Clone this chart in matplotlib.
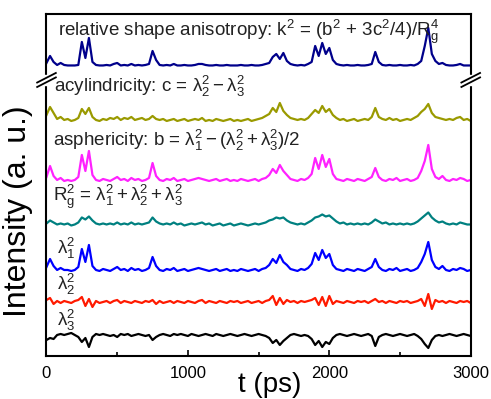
import numpy as np
import matplotlib
matplotlib.use("Agg")
import matplotlib.pyplot as plt

plt.rcParams['font.family'] = ['Liberation Sans', 'DejaVu Sans']
plt.rcParams['mathtext.fontset'] = 'custom'
plt.rcParams['mathtext.rm'] = 'Liberation Sans'
plt.rcParams['mathtext.it'] = 'Liberation Sans:italic'
plt.rcParams['mathtext.default'] = 'regular'

# time axis, one sample every 25 ps
t = np.arange(0, 3001, 25)

# shape descriptors (arbitrary units, above each trace's own baseline)
k2 = [3, 10, 4, 1, 3, 1, 0.5, 0.5, 0.5, 1,
      24, 8, 28, 4, 1, 0.5, 0.5, 1, 0.5, 2,
      3, 0.5, 1, 0.5, 2, 0.5, 1, 0.5, 1, 2,
      15, 6, 1, 0.5, 1, 0.5, 2, 0.5, 0.5, 1,
      0.5, 0.5, 1, 2, 2, 1, 0.5, 0.5, 1, 0.5,
      0.5, 1, 0.5, 0.5, 0.5, 1, 0.5, 0.5, 1, 0.5,
      0.5, 1, 2, 3, 9, 12, 7, 13, 5, 2,
      1, 0.5, 1, 0.5, 2, 4, 20, 10, 23, 12,
      18, 6, 2, 1, 0.5, 1, 0.5, 0.5, 1, 0.5,
      0.5, 1, 2, 14, 4, 1, 0.5, 1, 0.5, 0.5,
      1, 0.5, 0.5, 1, 0.5, 2, 5, 20, 38, 12,
      5, 2, 3, 1, 0.5, 0.5, 1, 2, 0.5, 0.5,
      0.5]
acyl = [8, 16, 10, 4, 6, 3, 4, 2, 3, 5,
        14, 9, 15, 6, 3, 2, 4, 3, 5, 4,
        6, 3, 5, 4, 6, 3, 4, 5, 3, 4,
        7, 4, 3, 4, 2, 3, 4, 2, 3, 4,
        2, 3, 4, 3, 5, 2, 3, 2, 4, 3,
        2, 3, 4, 2, 3, 2, 3, 4, 2, 3,
        4, 5, 7, 9, 15, 11, 20, 12, 8, 5,
        4, 3, 4, 3, 5, 9, 13, 10, 17, 11,
        14, 8, 5, 3, 4, 2, 3, 4, 2, 3,
        4, 3, 6, 15, 6, 4, 3, 5, 3, 4,
        2, 3, 4, 3, 5, 7, 11, 14, 19, 10,
        6, 5, 4, 3, 4, 3, 5, 6, 3, 4,
        2]
asph = [6, 17, 7, 3, 5, 2, 3, 2, 3, 6,
        28, 12, 32, 8, 3, 2, 4, 3, 2, 4,
        6, 3, 4, 2, 5, 3, 4, 2, 3, 5,
        20, 7, 3, 2, 4, 3, 5, 2, 3, 4,
        2, 3, 4, 5, 4, 3, 2, 3, 4, 2,
        3, 4, 2, 3, 2, 4, 3, 2, 3, 4,
        2, 4, 5, 8, 14, 10, 18, 12, 8, 4,
        3, 2, 4, 3, 5, 9, 25, 14, 28, 16,
        24, 9, 4, 3, 2, 4, 3, 2, 4, 3,
        2, 4, 6, 15, 6, 3, 2, 4, 3, 5,
        2, 3, 4, 2, 3, 5, 12, 22, 38, 14,
        6, 4, 7, 3, 2, 4, 3, 5, 4, 2,
        3]
rg2 = [3, 6, 4, 2, 3, 2, 3, 1, 2, 4,
       9, 7, 10, 6, 3, 2, 3, 2, 3, 2,
       4, 2, 3, 2, 4, 2, 3, 2, 3, 4,
       9, 5, 3, 2, 3, 2, 4, 2, 3, 1,
       2, 3, 2, 3, 4, 2, 3, 1, 2, 3,
       1, 2, 3, 1, 2, 3, 2, 1, 2, 3,
       2, 3, 4, 6, 7, 9, 8, 9, 6, 4,
       3, 2, 3, 2, 4, 6, 9, 10, 12, 10,
       11, 8, 5, 3, 4, 2, 3, 2, 3, 2,
       3, 2, 4, 7, 5, 3, 4, 2, 3, 2,
       3, 2, 3, 2, 3, 5, 8, 11, 14, 9,
       6, 4, 5, 3, 2, 3, 2, 4, 3, 2,
       2]
lam1 = [5, 13, 6, 2, 4, 2, 2, 1, 2, 5,
        23, 10, 27, 6, 2, 1, 3, 2, 1, 3,
        5, 2, 3, 1, 4, 2, 3, 1, 2, 4,
        15, 6, 2, 1, 3, 2, 4, 1, 2, 3,
        1, 2, 3, 4, 3, 2, 1, 2, 3, 1,
        2, 3, 1, 2, 1, 3, 2, 1, 2, 3,
        1, 3, 4, 7, 13, 9, 17, 10, 7, 3,
        2, 1, 3, 2, 4, 8, 19, 12, 22, 14,
        18, 7, 3, 2, 1, 3, 2, 1, 3, 2,
        1, 3, 5, 13, 5, 2, 1, 3, 2, 4,
        1, 2, 3, 1, 2, 4, 10, 18, 30, 12,
        5, 3, 6, 2, 1, 3, 2, 4, 3, 1,
        2]
lam2 = [2, 4, -2, 1, -1, 1, 0, -1, 1, 2,
        5, -4, 3, -5, 1, -1, 0, 1, -1, 1,
        2, -1, 1, 0, -1, 1, 0, -1, 1, 0,
        2, -2, 1, -1, 0, 1, -1, 1, 0, -1,
        1, 0, -1, 1, 2, -1, 1, 0, -1, 1,
        0, -1, 1, 0, 1, -1, 0, 1, -1, 0,
        1, -1, 1, 2, 6, -3, 4, -2, 2, 0,
        1, -1, 1, 0, 1, 2, 4, -3, 5, -4,
        6, -2, 1, 0, -1, 1, 0, -1, 1, 0,
        1, -1, 1, 3, 0, 1, -1, 1, 0, -1,
        1, 0, 1, -1, 0, 1, 3, -4, 8, -7,
        2, 0, 1, -1, 1, 0, -1, 1, 0, 1,
        -1]
lam3 = [-5, -3, -4, 0, 1, 0, 1, 2, 0, -2,
        -7, -3, -12, -2, 1, 0, 1, 0, -1, 0,
        -2, 1, 0, 1, -1, 0, 1, 0, -1, 0,
        -5, -2, 0, 1, 0, -1, 1, 0, 1, 0,
        -1, 1, 0, -1, 0, 1, 0, -1, 1, 0,
        -1, 0, 1, 0, -1, 0, 1, 0, -1, 0,
        1, 0, -1, -3, -8, -5, -10, -6, -3, 0,
        1, 0, -1, 0, -1, -4, -10, -6, -12, -7,
        -9, -3, 0, 1, 0, -1, 0, 1, 0, -1,
        0, 1, -1, -11, -2, 0, 1, 0, -1, 0,
        1, 0, -1, 0, 1, -1, -4, -9, -13, -5,
        -1, 0, -1, 0, 1, 0, -1, 0, 1, 0,
        -1]

series = [k2, acyl, asph, rg2, lam1, lam2, lam3]
colors = ['#00008b', '#9a9a00', '#ff22ff', '#008080', '#0000ff', '#ff1a00', '#000000']
offsets = [290, 233, 173, 129.5, 84, 54, 21]

labels = [
    r"relative shape anisotropy: k$^2$ = (b$^2$ + 3c$^2$/4)/R$_g^4$",
    r"acylindricity: c = $\lambda_2^2 - \lambda_3^2$",
    r"asphericity: b = $\lambda_1^2 - (\lambda_2^2 + \lambda_3^2)/2$",
    r"R$_g^2$ = $\lambda_1^2 + \lambda_2^2 + \lambda_3^2$",
    r"$\lambda_1^2$",
    r"$\lambda_2^2$",
    r"$\lambda_3^2$",
]
label_x = [80, 50, 45, 45, 75, 75, 75]
label_y = [320, 264, 210, 155, 102, 66, 30]

fig = plt.figure(figsize=(4.91, 3.99), dpi=100)
ax = fig.add_axes([0.0947, 0.1078, 0.8640, 0.8572])

for vals, c, off in zip(series, colors, offsets):
    ax.plot(t, np.array(vals) + off, color=c, lw=1.6)

for txt, x, y in zip(labels, label_x, label_y):
    ax.text(x, y, txt, fontsize=13.5, color='#222222', va='baseline', ha='left')

ax.set_xlim(0, 3000)
ax.set_ylim(0, 342)
ax.set_xticks([0, 1000, 2000, 3000])
ax.set_xticks([500, 1500, 2500], minor=True)
ax.set_yticks([])
ax.tick_params(axis='x', direction='in', length=4, width=1.2, labelsize=12, pad=7)
ax.tick_params(axis='x', which='minor', direction='in', length=3, width=1.2)
for s in ax.spines.values():
    s.set_linewidth(1.5)

ax.set_xlabel('t (ps)', fontsize=20, va='center')
ax.xaxis.set_label_coords(0.527, -0.085)
ax.set_ylabel('Intensity (a. u.)', fontsize=23, va='center')
ax.yaxis.set_label_coords(-0.068, 0.424)

# axis break marks on both side spines
yb = 0.807
dx, dy, gap = 0.022, 0.014, 0.013
for xb in (0.0, 1.0):
    ax.fill_between([xb - 0.01, xb + 0.01], yb - gap / 2 - dy / 2, yb + gap / 2 + dy / 2,
                    color='white', transform=ax.transAxes, clip_on=False, zorder=5)
    for yy in (yb - gap / 2, yb + gap / 2):
        ax.plot([xb - dx, xb + dx], [yy - dy, yy + dy], color='black', lw=1.3,
                transform=ax.transAxes, clip_on=False, zorder=6)

fig.savefig('out.png', dpi=100)
